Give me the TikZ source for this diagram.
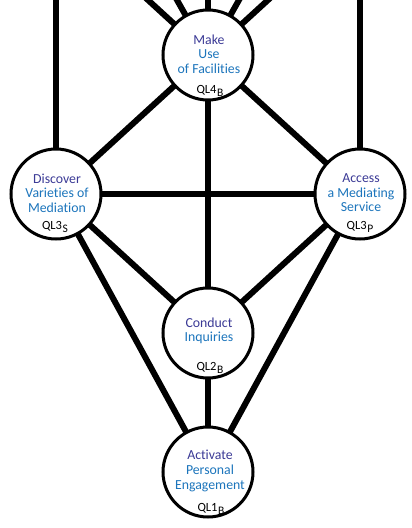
\documentclass[tikz,border=0pt]{standalone}
\usepackage{fontspec}
\setmainfont{Carlito}[Ligatures=NoCommon]
\definecolor{dkb}{HTML}{3B3A96}
\definecolor{ltb}{HTML}{1C75BC}
\pgfdeclarelayer{bg}\pgfsetlayers{bg,main}
\newcommand{\qlab}[2]{QL#1\hspace{0.6pt}\raisebox{-3pt}{\fontsize{11.5}{11.5}\selectfont #2}}
\begin{document}
\begin{tikzpicture}[x=1pt,y=-1pt,
  sef/.style={circle,draw=black,line width=3pt,fill=white,minimum size=90pt,inner sep=0pt},
  txt/.style={align=center,font=\fontsize{13.8}{14.6}\selectfont,text=ltb,inner sep=0pt},
  qlstyle/.style={font=\fontsize{12.5}{12.5}\selectfont,inner sep=0pt,text=black},
  conn/.style={line width=6pt,draw=black}]
\useasboundingbox (0,0) rectangle (412,528);
\clip (0,0) rectangle (412,528);
% circles
\node[sef] (t) at (208,55) {};
\node[sef] (l) at (56,194) {};
\node[sef] (r) at (360,194) {};
\node[sef] (c) at (208,333) {};
\node[sef] (a) at (208,472) {};
% off-frame ends
\coordinate (u1) at (88,-55);
\coordinate (u2) at (146,-55);
\coordinate (u3) at (208,-55);
\coordinate (u4) at (270,-55);
\coordinate (u5) at (328,-55);
\coordinate (ul) at (56,-20);
\coordinate (ur) at (360,-20);
\begin{pgfonlayer}{bg}
\foreach \u in {u1,u2,u3,u4,u5} \draw[conn] (t.center) -- (\u);
\draw[conn] (l.center) -- (ul);
\draw[conn] (r.center) -- (ur);
\draw[conn] (t.center) -- (l.center);
\draw[conn] (t.center) -- (r.center);
\draw[conn] (t.center) -- (c.center);
\draw[conn] (l.center) -- (r.center);
\draw[conn] (l.center) -- (c.center);
\draw[conn] (r.center) -- (c.center);
\draw[conn] (l.center) -- (a.center);
\draw[conn] (r.center) -- (a.center);
\draw[conn] (c.center) -- (a.center);
\end{pgfonlayer}
% texts
\node[txt] (tt) at (209,54) {{\color{dkb}Make}\\Use\\of Facilities};
\node[txt] (lt) at (57,193) {{\color{dkb}Discover}\\Varieties of\\Mediation};
\node[txt] (rt) at (361,193) {{\color{dkb}Access}\\a Mediating\\Service};
\node[txt] (ct) at (209,331) {{\color{dkb}Conduct}\\Inquiries};
\node[txt] (at) at (210,471) {{\color{dkb}Activate}\\Personal\\Engagement};
\node[qlstyle] (tq) at (210,91) {\qlab{4}{B}};
\node[qlstyle] (lq) at (55,227) {\qlab{3}{S}};
\node[qlstyle] (rq) at (360,227) {\qlab{3}{P}};
\node[qlstyle] (cq) at (210,368) {\qlab{2}{B}};
\node[qlstyle] (aq) at (211,509) {\qlab{1}{B}};
\end{tikzpicture}
\end{document}
